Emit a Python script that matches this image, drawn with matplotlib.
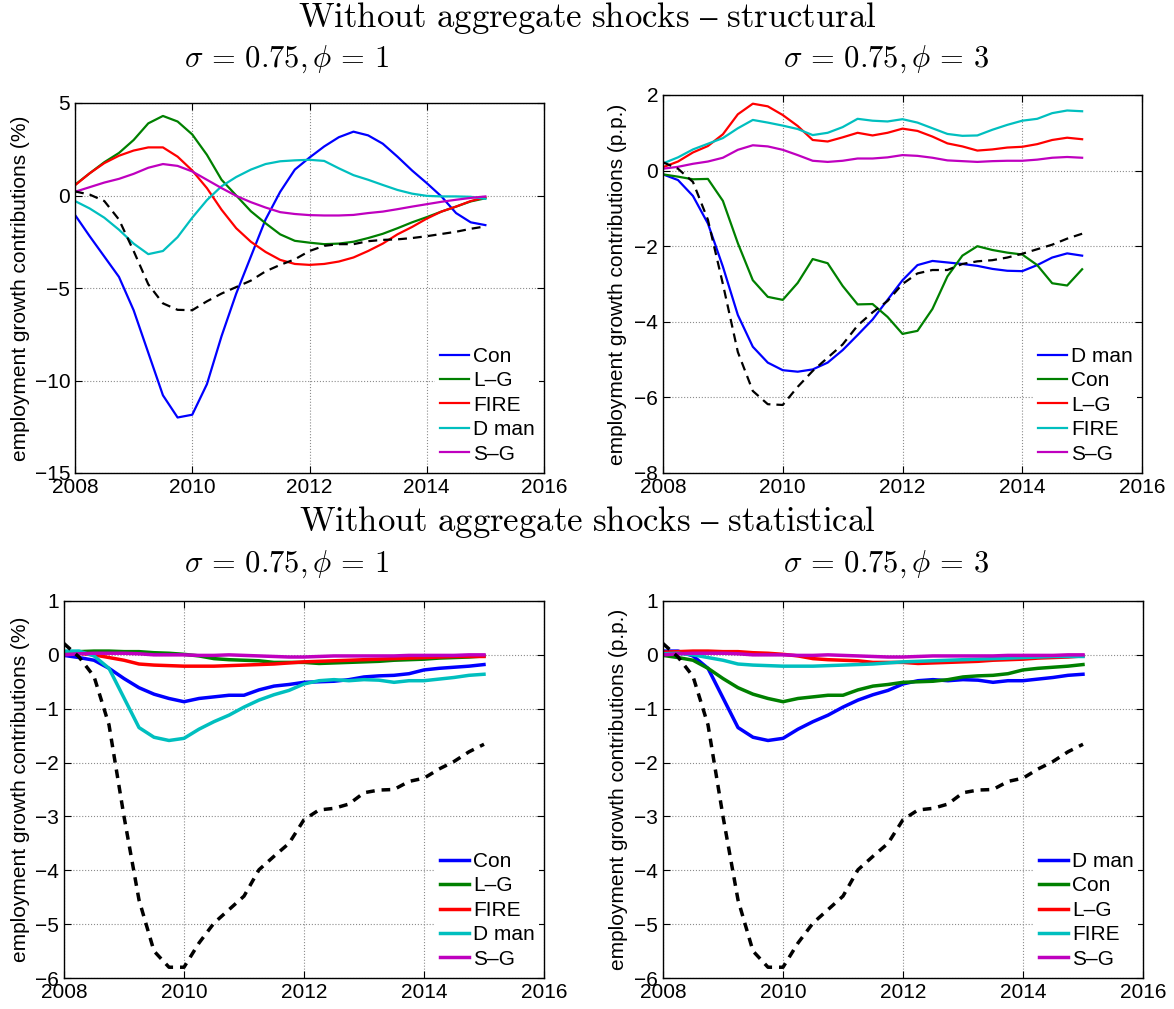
import numpy as np
import matplotlib
matplotlib.use('Agg')
import matplotlib.pyplot as plt

# fonts: helvetica-like for axes, computer modern for the titles
plt.rcParams['font.family'] = ['Liberation Sans', 'DejaVu Sans']
plt.rcParams['mathtext.fontset'] = 'cm'

# quarterly dates 2008Q1 .. 2015Q1
dates = 2008 + 0.25 * np.arange(29)

# ---- without aggregate shocks, structural, sigma=0.75 phi=1 (%)
s1_con = [-1.05, -2.2, -3.3, -4.4, -6.2, -8.5, -10.8, -12.0, -11.85, -10.2, -7.6, -5.3, -3.3, -1.3, 0.2,
          1.4, 2.05, 2.65, 3.15, 3.45, 3.25, 2.8, 2.1, 1.35, 0.67, -0.05, -0.95, -1.45, -1.6]
s1_lg = [0.58, 1.2, 1.8, 2.3, 3.0, 3.9, 4.3, 4.0, 3.3, 2.2, 0.85, 0.0, -0.85, -1.5, -2.1,
         -2.45, -2.55, -2.63, -2.6, -2.5, -2.3, -2.07, -1.77, -1.45, -1.17, -0.87, -0.6, -0.32, -0.15]
s1_fire = [0.55, 1.2, 1.75, 2.15, 2.43, 2.6, 2.6, 2.1, 1.35, 0.4, -0.77, -1.77, -2.5, -3.05, -3.48,
           -3.7, -3.75, -3.7, -3.57, -3.35, -3.0, -2.6, -2.1, -1.7, -1.25, -0.87, -0.6, -0.3, -0.1]
s1_dman = [-0.3, -0.7, -1.2, -1.85, -2.6, -3.17, -3.0, -2.25, -1.2, -0.25, 0.5, 1.0, 1.4, 1.7, 1.85,
           1.9, 1.93, 1.87, 1.47, 1.1, 0.85, 0.57, 0.3, 0.1, -0.02, -0.05, -0.05, -0.07, -0.18]
s1_sg = [0.2, 0.45, 0.7, 0.9, 1.17, 1.5, 1.7, 1.6, 1.3, 0.85, 0.4, -0.02, -0.36, -0.65, -0.9,
         -1.0, -1.06, -1.08, -1.08, -1.05, -0.95, -0.87, -0.74, -0.6, -0.47, -0.34, -0.23, -0.13, -0.05]

# ---- structural, sigma=0.75 phi=3 (p.p.)
s3_dman = [-0.1, -0.25, -0.67, -1.4, -2.54, -3.82, -4.66, -5.08, -5.28, -5.32, -5.26, -5.08, -4.75, -4.35, -3.94,
           -3.42, -2.9, -2.5, -2.39, -2.43, -2.47, -2.52, -2.6, -2.65, -2.66, -2.5, -2.3, -2.19, -2.25]
s3_con = [-0.1, -0.16, -0.23, -0.22, -0.8, -1.92, -2.9, -3.34, -3.42, -2.97, -2.34, -2.45, -3.05, -3.54, -3.53,
          -3.87, -4.32, -4.24, -3.66, -2.8, -2.25, -2.0, -2.1, -2.17, -2.22, -2.5, -2.98, -3.04, -2.61]
s3_lg = [0.09, 0.24, 0.48, 0.65, 0.96, 1.49, 1.77, 1.7, 1.47, 1.18, 0.81, 0.77, 0.88, 1.0, 0.93,
         1.0, 1.11, 1.05, 0.9, 0.72, 0.64, 0.53, 0.56, 0.61, 0.63, 0.7, 0.81, 0.87, 0.83]
s3_fire = [0.19, 0.35, 0.56, 0.71, 0.86, 1.12, 1.34, 1.27, 1.19, 1.1, 0.94, 1.0, 1.15, 1.37, 1.32,
           1.3, 1.36, 1.27, 1.12, 0.97, 0.92, 0.93, 1.08, 1.21, 1.32, 1.37, 1.52, 1.59, 1.57]
s3_sg = [0.05, 0.1, 0.18, 0.24, 0.34, 0.55, 0.67, 0.64, 0.55, 0.41, 0.26, 0.23, 0.26, 0.32, 0.32,
         0.35, 0.41, 0.39, 0.34, 0.27, 0.25, 0.23, 0.25, 0.26, 0.26, 0.29, 0.34, 0.36, 0.34]

# aggregate employment growth (dashed), structural panels
struct_total = [0.22, 0.05, -0.3, -1.3, -3.0, -4.8, -5.83, -6.18, -6.2, -5.72, -5.3, -4.95, -4.6, -4.1, -3.75,
                -3.45, -3.0, -2.72, -2.63, -2.63, -2.47, -2.4, -2.37, -2.3, -2.2, -2.08, -1.96, -1.8, -1.67]

# ---- without aggregate shocks, statistical
stat_con = [-0.01, -0.05, -0.1, -0.25, -0.44, -0.61, -0.73, -0.81, -0.87, -0.81, -0.78, -0.75, -0.75, -0.65, -0.58,
            -0.55, -0.51, -0.5, -0.49, -0.46, -0.41, -0.39, -0.38, -0.35, -0.28, -0.25, -0.23, -0.21, -0.18]
stat_lg = [0.05, 0.06, 0.07, 0.07, 0.06, 0.06, 0.04, 0.03, 0.01, -0.02, -0.07, -0.09, -0.1, -0.11, -0.14,
           -0.14, -0.14, -0.16, -0.15, -0.14, -0.13, -0.12, -0.1, -0.09, -0.08, -0.06, -0.05, -0.04, -0.02]
stat_fire = [0.02, 0.03, 0.0, -0.05, -0.1, -0.17, -0.19, -0.2, -0.21, -0.21, -0.21, -0.2, -0.19, -0.18, -0.17,
             -0.15, -0.13, -0.12, -0.11, -0.1, -0.09, -0.08, -0.07, -0.06, -0.05, -0.04, -0.03, -0.03, -0.03]
stat_dman = [0.07, 0.07, -0.02, -0.25, -0.8, -1.35, -1.53, -1.59, -1.55, -1.38, -1.24, -1.12, -0.97, -0.84, -0.74,
             -0.66, -0.54, -0.48, -0.46, -0.48, -0.46, -0.47, -0.51, -0.48, -0.48, -0.45, -0.42, -0.38, -0.36]
stat_sg = [0.0, 0.02, 0.03, 0.03, 0.03, 0.02, 0.0, 0.0, 0.0, -0.01, -0.01, 0.0, -0.01, -0.02, -0.03,
           -0.04, -0.04, -0.03, -0.02, -0.02, -0.02, -0.02, -0.02, -0.01, -0.01, -0.01, -0.01, 0.0, 0.0]
stat_total = [0.21, -0.04, -0.4, -1.3, -3.0, -4.55, -5.5, -5.8, -5.8, -5.35, -4.98, -4.73, -4.48, -3.99, -3.74,
              -3.5, -3.06, -2.88, -2.85, -2.77, -2.56, -2.51, -2.5, -2.35, -2.29, -2.12, -1.98, -1.8, -1.66]

# matlab default line colours
colors = ['#0000ff', '#008000', '#ff0000', '#00bfbf', '#bf00bf']

W, H = 1174, 1009
fig = plt.figure(figsize=(W / 100, H / 100), dpi=100)


def panel(l, r, t, b, names, series, total, ylim, yticks, ylabel, lab_x, lw, dash):
    # axes placed in pixel coordinates
    ax = fig.add_axes([l / W, 1 - b / H, (r - l) / W, (b - t) / H])
    for name, vals, c in zip(names, series, colors):
        ax.plot(dates, vals, color=c, lw=lw, label=name)
    ax.plot(dates, total, color='k', lw=lw, ls=(0, dash))
    ax.set_xlim(2008, 2016)
    ax.set_ylim(ylim)
    ax.set_xticks([2008, 2010, 2012, 2014, 2016])
    ax.set_yticks(yticks)
    ax.grid(True, ls=':', color='0.55', lw=0.8)
    ax.tick_params(direction='in', length=5, width=0.8, top=True, right=True,
                   labelsize=15, pad=3.5)
    for sp in ax.spines.values():
        sp.set_linewidth(1.0)
    ax.set_ylabel(ylabel, fontsize=15, va='center')
    ax.yaxis.set_label_coords((lab_x - l) / (r - l), 0.5)
    ax.legend(loc='lower right', fontsize=15, handlelength=1.4, handletextpad=0.2,
              labelspacing=0.26, borderpad=0.2, borderaxespad=0.25, frameon=True,
              fancybox=False, edgecolor='none', facecolor='white', framealpha=1)
    return ax


names_a = ['Con', 'L\u2013G', 'FIRE', 'D man', 'S\u2013G']
names_b = ['D man', 'Con', 'L\u2013G', 'FIRE', 'S\u2013G']

panel(75, 544, 103, 473, names_a, [s1_con, s1_lg, s1_fire, s1_dman, s1_sg], struct_total,
      (-15, 5), [-15, -10, -5, 0, 5], 'employment growth contributions (%)', 21, 1.6, (4, 2.7))
panel(663, 1142, 95, 473, names_b, [s3_dman, s3_con, s3_lg, s3_fire, s3_sg], struct_total,
      (-8, 2), [-8, -6, -4, -2, 0, 2], 'employment growth contributions (p.p.)', 617, 1.6, (4, 2.7))
panel(64, 544, 601, 978, names_a, [stat_con, stat_lg, stat_fire, stat_dman, stat_sg], stat_total,
      (-6, 1), [-6, -5, -4, -3, -2, -1, 0, 1], 'employment growth contributions (%)', 21, 2.5, (2.5, 2))
panel(663, 1143, 601, 978, names_b, [stat_dman, stat_con, stat_lg, stat_fire, stat_sg], stat_total,
      (-6, 1), [-6, -5, -4, -3, -2, -1, 0, 1], 'employment growth contributions (p.p.)', 618, 2.5, (2.5, 2))

# titles
fig.text(587 / W, 1 - 18 / H, r'$\mathrm{Without\ aggregate\ shocks\ –\ structural}$',
         ha='center', va='center', fontsize=25)
fig.text(587 / W, 1 - 522 / H, r'$\mathrm{Without\ aggregate\ shocks\ –\ statistical}$',
         ha='center', va='center', fontsize=25)
for xc, ph in [(287, 1), (886, 3)]:
    sub = r'$\sigma \,=\, 0.75, \phi \,=\, %d$' % ph
    fig.text(xc / W, 1 - 59 / H, sub, ha='center', va='center', fontsize=22)
    fig.text(xc / W, 1 - 564 / H, sub, ha='center', va='center', fontsize=22)

fig.savefig('out.png', dpi=100)
